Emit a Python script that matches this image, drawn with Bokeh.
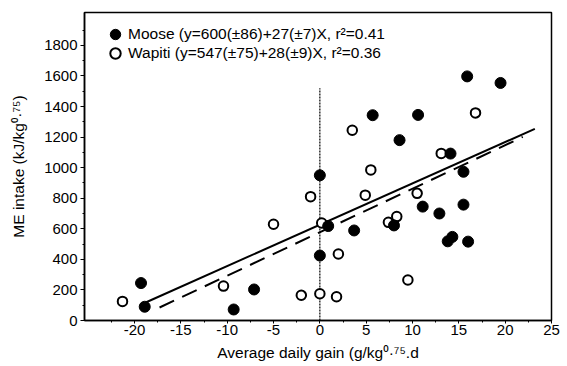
from bokeh.plotting import figure
from bokeh.models import Range1d, FixedTicker, Legend, LegendItem
from bokeh.embed import file_html
from bokeh.resources import INLINE

# ---- data ----
moose_x = [-19.3, -18.9, -9.3, -7.1, 0.0, 0.0, 0.9, 3.7, 5.7, 8.6, 8.0, 10.6, 11.1,
           12.9, 14.1, 15.5, 15.5, 13.8, 14.3, 16.0, 15.9, 19.5]
moose_y = [245, 90, 72, 203, 950, 425, 618, 589, 1343, 1180, 622, 1345, 745,
           700, 1092, 973, 758, 518, 547, 516, 1597, 1554]

wapiti_x = [-21.3, -10.4, -5.0, -2.0, -1.0, 0.0, 0.2, 1.8, 2.0, 3.5, 4.9, 5.5,
            7.4, 8.3, 9.5, 10.5, 13.1, 16.8]
wapiti_y = [125, 225, 630, 165, 810, 175, 638, 155, 435, 1245, 820, 985,
            642, 680, 265, 832, 1093, 1358]

moose_fit_x = [-18.8, 23.2]
moose_fit_y = [118, 1254]
wapiti_fit_x = [-17.3, 21.9]
wapiti_fit_y = [85, 1201]

zero_line_x = [0, 0]
zero_line_y = [0, 1520]

x_ticks = [-20, -15, -10, -5, 0, 5, 10, 15, 20, 25]
x_tick_labels = ["-20", "-15", "-10", "-5", "0", "5", "10", "15", "20", "25"]
x_minor = [-22.5, -17.5, -12.5, -7.5, -2.5, 2.5, 7.5, 12.5, 17.5, 22.5]
y_ticks = [0, 200, 400, 600, 800, 1000, 1200, 1400, 1600, 1800]
y_tick_labels = ["0", "200", "400", "600", "800", "1000", "1200", "1400", "1600", "1800"]
y_minor = [100, 300, 500, 700, 900, 1100, 1300, 1500, 1700, 1900]

moose_label = "Moose (y=600(\u00b186)+27(\u00b17)X, r\u00b2=0.41"
wapiti_label = "Wapiti (y=547(\u00b175)+28(\u00b19)X, r\u00b2=0.36"
x_title = "Average daily gain (g/kg\u2070\u00b7\u2077\u2075.d"
y_title = "ME intake (kJ/kg\u2070\u00b7\u2077\u2075)"

FONT = "Liberation Sans"
TITLE_FONT = "Liberation Sans, Noto Sans"

p = figure(width=567, height=366, x_range=Range1d(-25.4, 25), y_range=Range1d(0, 2015),
           output_backend="svg", toolbar_location=None,
           min_border_left=84, min_border_right=16, min_border_top=12, min_border_bottom=46)
p.xgrid.grid_line_color = None
p.ygrid.grid_line_color = None
p.outline_line_color = "black"
p.outline_line_width = 1.5
p.background_fill_color = "white"
p.border_fill_color = "white"

xa = p.xaxis[0]
ya = p.yaxis[0]
xa.ticker = FixedTicker(ticks=x_ticks, minor_ticks=x_minor)
ya.ticker = FixedTicker(ticks=y_ticks, minor_ticks=y_minor)
xa.major_label_overrides = dict(zip(x_ticks, x_tick_labels))
ya.major_label_overrides = dict(zip(y_ticks, y_tick_labels))

for ax in (xa, ya):
    ax.axis_line_color = "black"
    ax.axis_line_width = 1.5
    ax.major_tick_line_color = "black"
    ax.minor_tick_line_color = "black"
    ax.major_tick_in = 0
    ax.minor_tick_out = 2
    ax.minor_tick_in = 0
    ax.major_label_text_font = FONT
    ax.major_label_text_font_size = "15px"
    ax.major_label_text_color = "black"
    ax.axis_label_text_font = TITLE_FONT
    ax.axis_label_text_font_size = "15.5px"
    ax.axis_label_text_font_style = "normal"
    ax.axis_label_text_color = "black"

xa.major_tick_out = 3
xa.major_label_standoff = 1
xa.axis_label = x_title
xa.axis_label_standoff = 6

ya.major_tick_out = 4
ya.major_label_standoff = 3
ya.axis_label = y_title
ya.axis_label_standoff = 14

# vertical dotted zero line
p.line(zero_line_x, zero_line_y, line_color="black", line_width=1.2, line_dash="2 1")

# regression lines
p.line(moose_fit_x, moose_fit_y, line_color="black", line_width=2)
p.line(wapiti_fit_x, wapiti_fit_y, line_color="black", line_width=2, line_dash="16 9")

r_w = p.scatter(wapiti_x, wapiti_y, marker="circle", size=9.5, fill_color="white",
                line_color="black", line_width=2)
r_m = p.scatter(moose_x, moose_y, marker="circle", size=11, fill_color="black",
                line_color="black", line_width=1)

def make_legend(label, renderer, loc):
    lg = Legend(items=[LegendItem(label=label, renderers=[renderer])], location=loc)
    lg.label_text_font = FONT
    lg.label_text_font_size = "15.5px"
    lg.label_text_color = "black"
    lg.glyph_width = 26
    lg.glyph_height = 26
    lg.label_height = 16
    lg.spacing = 0
    lg.padding = 0
    lg.margin = 0
    lg.label_standoff = 0
    lg.border_line_alpha = 0
    lg.background_fill_alpha = 0
    return lg

p.add_layout(make_legend(moose_label, r_m, (18, 273)))
p.add_layout(make_legend(wapiti_label, r_w, (18, 254)))

open("out.html", "w").write(file_html(p, INLINE))
